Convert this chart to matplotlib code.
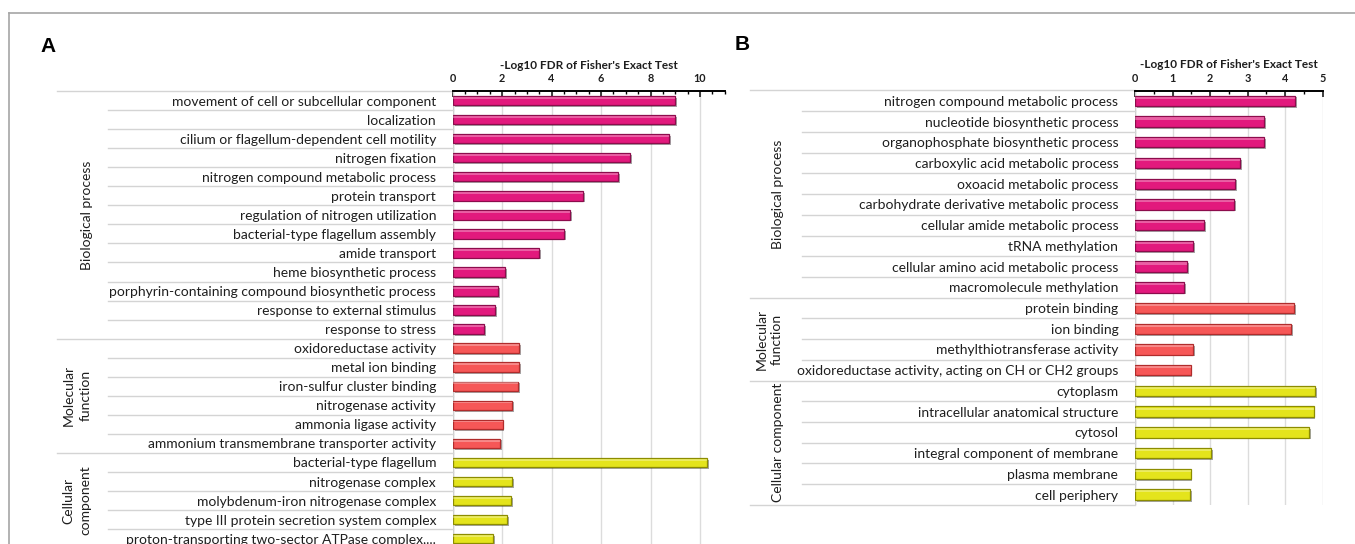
import matplotlib
matplotlib.use("Agg")
import matplotlib.pyplot as plt
import matplotlib.patheffects as pe
from matplotlib.transforms import blended_transform_factory
from matplotlib.lines import Line2D
from matplotlib.ticker import MultipleLocator

# ---------------- data ----------------
a_bp_terms = ["movement of cell or subcellular component", "localization",
              "cilium or flagellum-dependent cell motility", "nitrogen fixation",
              "nitrogen compound metabolic process", "protein transport",
              "regulation of nitrogen utilization", "bacterial-type flagellum assembly",
              "amide transport", "heme biosynthetic process",
              "porphyrin-containing compound biosynthetic process",
              "response to external stimulus", "response to stress"]
a_bp_values = [9.0, 9.0, 8.76, 7.17, 6.68, 5.28, 4.74, 4.50, 3.50, 2.13, 1.83, 1.72, 1.27]
a_mf_terms = ["oxidoreductase activity", "metal ion binding", "iron-sulfur cluster binding",
              "nitrogenase activity", "ammonia ligase activity",
              "ammonium transmembrane transporter activity"]
a_mf_values = [2.68, 2.68, 2.64, 2.39, 2.02, 1.91]
a_cc_terms = ["bacterial-type flagellum", "nitrogenase complex",
              "molybdenum-iron nitrogenase complex", "type III protein secretion system complex",
              "proton-transporting two-sector ATPase complex,..."]
a_cc_values = [10.30, 2.39, 2.36, 2.21, 1.64]

b_bp_terms = ["nitrogen compound metabolic process", "nucleotide biosynthetic process",
              "organophosphate biosynthetic process", "carboxylic acid metabolic process",
              "oxoacid metabolic process", "carbohydrate derivative metabolic process",
              "cellular amide metabolic process", "tRNA methylation",
              "cellular amino acid metabolic process", "macromolecule methylation"]
b_bp_values = [4.27, 3.45, 3.44, 2.80, 2.66, 2.64, 1.84, 1.54, 1.39, 1.31]
b_mf_terms = ["protein binding", "ion binding", "methylthiotransferase activity",
              "oxidoreductase activity, acting on CH or CH2 groups"]
b_mf_values = [4.23, 4.16, 1.54, 1.48]
b_cc_terms = ["cytoplasm", "intracellular anatomical structure", "cytosol",
              "integral component of membrane", "plasma membrane", "cell periphery"]
b_cc_values = [4.81, 4.76, 4.63, 2.03, 1.48, 1.47]

axis_title = "-Log10 FDR of Fisher's Exact Test"

# ---------------- style ----------------
W, H = 1355, 544
FONT = "Lato"
plt.rcParams["font.family"] = [FONT, "DejaVu Sans"]
C_BP, E_BP = "#e2197d", "#8c0c4c"
C_MF, E_MF = "#f65757", "#b02c2c"
C_CC, E_CC = "#e4e41c", "#8c8c00"
SEP = "#d4d4d4"
TXT = "#1e1e1e"
LBL = 10.0

fig = plt.figure(figsize=(W / 100, H / 100), dpi=100)
fx = lambda px: px / W
fy = lambda py: 1 - py / H

# frame
fig.add_artist(Line2D([fx(9), fx(9)], [fy(13), 0], color="#a6a6a6", lw=1.2))
fig.add_artist(Line2D([fx(9), 1], [fy(13), fy(13)], color="#a6a6a6", lw=1.2))


def panel(left, top, width, row_h, xmax, major, groups, row_sep_x, full_sep_x,
          group_label_pos, draw_bottom, ls):
    terms, vals, cols, edges, sizes = [], [], [], [], []
    for t, v, c, e in groups:
        terms += t
        vals += v
        cols += [c] * len(t)
        edges += [e] * len(t)
        sizes.append(len(t))
    n = len(terms)
    height = n * row_h
    ax = fig.add_axes([fx(left), fy(top + height), width / W, height / H])
    ys = list(range(n))
    bars = ax.barh(ys, vals, height=0.5, color=cols, edgecolor=edges, linewidth=0.9, zorder=3)
    for b in bars:
        b.set_path_effects([pe.SimplePatchShadow(offset=(1.3, -1.3), shadow_rgbFace="k", alpha=0.35),
                            pe.Normal()])
    ax.barh([y - 0.15 for y in ys], vals, height=0.1, color="white", alpha=0.3,
            linewidth=0, zorder=4)
    ax.set_xlim(0, xmax)
    ax.set_ylim(n - 0.5, -0.5)
    ax.xaxis.set_major_locator(MultipleLocator(major))
    ax.xaxis.set_minor_locator(MultipleLocator(0.5))
    ax.xaxis.tick_top()
    ax.xaxis.set_label_position("top")
    ax.tick_params(axis="x", which="major", direction="in", length=4, width=1.2, pad=5,
                   labelsize=7.8, colors=TXT)
    ax.tick_params(axis="x", which="minor", direction="in", length=2.5, width=1.0)
    for lab in ax.get_xticklabels():
        lab.set_fontweight("bold")
    ax.set_xlabel(axis_title, fontsize=8.5, fontweight="bold", color=TXT, labelpad=3)
    ax.set_yticks(ys)
    ax.set_yticklabels(terms, fontsize=LBL, color=TXT)
    ax.tick_params(axis="y", length=0, pad=12)
    for s in ["left", "right", "bottom"]:
        ax.spines[s].set_visible(False)
    ax.spines["top"].set_linewidth(1.4)
    ax.spines["top"].set_zorder(6)
    ax.grid(axis="x", which="major", color="#dcdcdc", lw=1.0, zorder=0)
    ax.axvline(0, color="#cfcfcf", lw=1.0, zorder=1)
    ax.set_axisbelow(True)
    tr = blended_transform_factory(fig.transFigure, ax.transData)
    boundaries = [0]
    for s in sizes:
        boundaries.append(boundaries[-1] + s)
    for k in range(n + 1):
        if k == n and not draw_bottom:
            continue
        x0 = full_sep_x if k in boundaries else row_sep_x
        ax.plot([fx(x0), fx(left)], [k - 0.5, k - 0.5], transform=tr, color=SEP,
                lw=1.0, clip_on=False, zorder=1)
    for gi, gx in enumerate(group_label_pos):
        xpos, txt = gx
        ymid = (boundaries[gi] + boundaries[gi + 1]) / 2 - 0.5
        ax.text(fx(xpos), ymid, txt, transform=tr, rotation=90, ha="center", va="center",
                fontsize=LBL, color=TXT, linespacing=ls, multialignment="center")
    return ax


panel(452.7, 91, 272, 19.05, 11.0, 2,
      [(a_bp_terms, a_bp_values, C_BP, E_BP),
       (a_mf_terms, a_mf_values, C_MF, E_MF),
       (a_cc_terms, a_cc_values, C_CC, E_CC)],
      108, 57,
      [(87, "Biological process"), (77, "Molecular\nfunction"), (77, "Cellular\ncomponent")],
      False, 1.55)

panel(1135, 90.5, 187.6, 20.72, 5.0, 1,
      [(b_bp_terms, b_bp_values, C_BP, E_BP),
       (b_mf_terms, b_mf_values, C_MF, E_MF),
       (b_cc_terms, b_cc_values, C_CC, E_CC)],
      802, 750,
      [(778, "Biological process"), (769, "Molecular\nfunction"), (778, "Cellular component")],
      True, 1.3)

fig.text(fx(48), fy(47), "A", fontsize=15, fontweight="bold", family="Liberation Sans",
         ha="center", va="center", color="k")
fig.text(fx(742), fy(45), "B", fontsize=15, fontweight="bold", family="Liberation Sans",
         ha="center", va="center", color="k")

fig.savefig("out.png", dpi=100)
